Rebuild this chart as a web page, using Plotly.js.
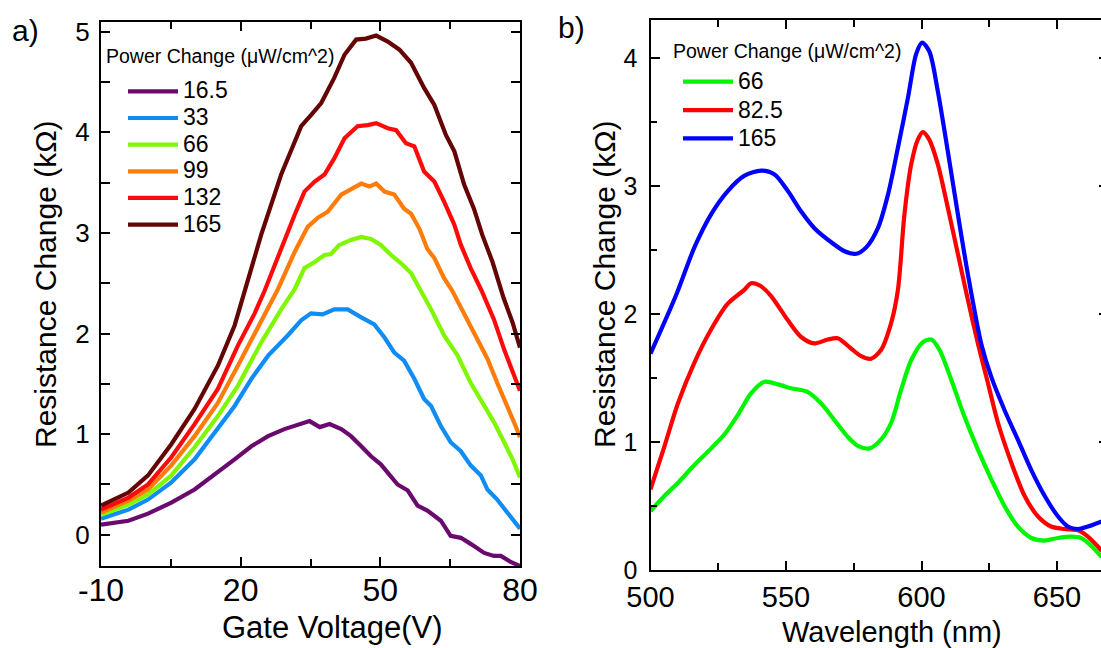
<!DOCTYPE html>
<html>
<head>
<meta charset="utf-8">
<script src="https://cdn.plot.ly/plotly-3.0.1.min.js"></script>
<style>
html, body { margin: 0; padding: 0; overflow: hidden; background: #fff; }
#chart { width: 1110px; height: 648px; }
</style>
</head>
<body>
<div id="chart"></div>
<script>
// ---------- Panel a: Resistance change vs gate voltage ----------
const gateSeriesNames = ['16.5', '33', '66', '99', '132', '165'];
const gateTickVals = [-10, 20, 50, 80];
const gateTickText = ['-10', '20', '50', '80'];

const gate_x_16_5 = [-10, -4.1, 0.1, 5.1, 10.1, 15.1, 18.7, 22.3, 25.9, 29.4, 33.0, 34.8, 37.0, 39.1, 41.6, 43.7, 45.9, 48.0, 50.1, 51.6, 53.7, 55.9, 58.0, 60.1, 63.0, 65.1, 67.3, 69.4, 72.3, 74.4, 75.9, 78.0, 80];
const gate_y_16_5 = [0.10, 0.14, 0.21, 0.32, 0.45, 0.62, 0.75, 0.88, 0.98, 1.05, 1.10, 1.13, 1.07, 1.10, 1.05, 0.98, 0.88, 0.78, 0.70, 0.62, 0.50, 0.44, 0.29, 0.24, 0.14, -0.01, -0.03, -0.09, -0.18, -0.21, -0.21, -0.27, -0.31];

const gate_x_33 = [-10, -4.1, 0.1, 5.1, 10.1, 15.1, 18.7, 22.3, 25.9, 30.1, 33.0, 35.1, 37.6, 40.1, 43.0, 45.9, 48.7, 50.9, 53.0, 55.1, 57.3, 59.4, 60.9, 63.0, 65.1, 67.3, 69.4, 71.6, 73.0, 75.1, 77.3, 80];
const gate_y_33 = [0.16, 0.25, 0.35, 0.52, 0.75, 1.05, 1.28, 1.55, 1.78, 1.98, 2.13, 2.20, 2.19, 2.24, 2.24, 2.16, 2.09, 1.96, 1.81, 1.73, 1.55, 1.35, 1.28, 1.08, 0.92, 0.83, 0.69, 0.59, 0.45, 0.35, 0.22, 0.06];

const gate_x_66 = [-10, -4.1, 0.1, 5.1, 10.1, 15.1, 19.4, 24.4, 28.7, 31.6, 33.7, 35.9, 38.0, 39.4, 41.2, 43.7, 45.9, 48.0, 50.1, 52.3, 54.4, 56.6, 58.4, 60.9, 63.7, 66.6, 69.4, 72.3, 74.4, 76.6, 78.4, 80];
const gate_y_66 = [0.20, 0.30, 0.40, 0.59, 0.87, 1.18, 1.48, 1.91, 2.24, 2.44, 2.65, 2.71, 2.78, 2.79, 2.88, 2.93, 2.96, 2.94, 2.88, 2.78, 2.70, 2.60, 2.45, 2.24, 1.98, 1.78, 1.51, 1.28, 1.12, 0.92, 0.75, 0.57];

const gate_x_99 = [-10, -4.1, 0.1, 5.1, 10.1, 15.1, 19.4, 24.4, 28.0, 31.6, 34.4, 36.6, 38.7, 41.6, 43.7, 45.9, 47.6, 49.1, 50.9, 53.0, 55.1, 56.6, 58.4, 60.1, 61.6, 63.7, 65.5, 68.7, 70.9, 73.0, 75.1, 77.3, 78.7, 80];
const gate_y_99 = [0.22, 0.34, 0.45, 0.69, 0.98, 1.31, 1.68, 2.11, 2.44, 2.81, 3.06, 3.15, 3.21, 3.38, 3.43, 3.49, 3.46, 3.49, 3.41, 3.38, 3.24, 3.19, 3.04, 2.84, 2.75, 2.55, 2.42, 2.14, 1.94, 1.75, 1.51, 1.28, 1.12, 0.97];

const gate_x_132 = [-10, -4.1, 0.1, 5.1, 10.1, 15.1, 19.4, 23.0, 25.1, 28.7, 31.6, 33.7, 35.9, 38.0, 40.1, 42.3, 45.1, 47.3, 49.1, 51.6, 53.4, 55.5, 57.3, 59.4, 61.6, 63.7, 65.9, 67.3, 69.4, 71.7, 74.4, 76.6, 78.4, 80];
const gate_y_132 = [0.25, 0.37, 0.50, 0.77, 1.10, 1.45, 1.88, 2.20, 2.42, 2.85, 3.18, 3.41, 3.51, 3.58, 3.74, 3.94, 4.06, 4.07, 4.09, 4.04, 4.02, 3.89, 3.86, 3.61, 3.51, 3.31, 3.08, 2.88, 2.65, 2.43, 2.14, 1.84, 1.61, 1.43];

const gate_x_165 = [-10, -4.1, 0.1, 5.1, 10.1, 15.1, 18.7, 21.0, 24.4, 28.7, 33.0, 35.1, 37.3, 40.1, 42.3, 44.8, 46.9, 49.1, 51.6, 54.1, 56.6, 59.4, 61.6, 64.1, 65.9, 68.0, 70.1, 71.9, 74.1, 76.5, 78.4, 80];
const gate_y_165 = [0.29, 0.42, 0.59, 0.90, 1.25, 1.68, 2.08, 2.45, 2.98, 3.58, 4.06, 4.17, 4.29, 4.54, 4.77, 4.92, 4.93, 4.96, 4.90, 4.82, 4.69, 4.44, 4.27, 3.97, 3.81, 3.48, 3.24, 2.98, 2.71, 2.35, 2.11, 1.86];

const gateColors = ['#6a0a6e', '#108cf5', '#7ff700', '#ff7b0a', '#ff0a0a', '#640404'];

// ---------- Panel b: Resistance change vs wavelength ----------
const waveSeriesNames = ['66', '82.5', '165'];

const wave_x_66 = [500, 505.2, 510.1, 516.2, 522.4, 527.3, 532.2, 537.1, 542.1, 547.0, 551.9, 558.1, 563.0, 567.9, 572.8, 576.5, 580.8, 585.1, 588.8, 592.5, 596.2, 600.5, 603.6, 606.6, 610.9, 615.8, 620.8, 625.7, 630.6, 635.5, 640.5, 645.4, 650.3, 655.2, 658.9, 662.6, 666.5];
const wave_y_66 = [0.46, 0.58, 0.68, 0.82, 0.95, 1.06, 1.21, 1.38, 1.47, 1.45, 1.42, 1.39, 1.30, 1.17, 1.04, 0.97, 0.95, 1.02, 1.15, 1.41, 1.64, 1.78, 1.80, 1.72, 1.49, 1.20, 0.94, 0.71, 0.50, 0.34, 0.25, 0.23, 0.25, 0.26, 0.25, 0.19, 0.10];

const wave_x_82_5 = [500, 505.2, 510.1, 516.2, 522.4, 528.5, 534.7, 537.1, 540.5, 544.5, 550.7, 555.6, 560.5, 565.4, 569.1, 574.0, 577.7, 581.4, 585.1, 588.8, 591.3, 593.7, 596.2, 598.6, 600.5, 602.9, 606.0, 609.7, 613.4, 617.1, 620.8, 624.5, 628.2, 633.1, 638.0, 642.9, 647.8, 652.8, 657.7, 661.4, 666.5];
const wave_y_82_5 = [0.63, 0.97, 1.30, 1.62, 1.88, 2.08, 2.19, 2.24, 2.22, 2.14, 1.95, 1.82, 1.77, 1.80, 1.81, 1.73, 1.67, 1.65, 1.72, 1.93, 2.19, 2.78, 3.17, 3.36, 3.42, 3.36, 3.17, 2.83, 2.47, 2.11, 1.77, 1.46, 1.15, 0.84, 0.58, 0.42, 0.34, 0.32, 0.31, 0.26, 0.15];

const wave_x_165 = [500, 509.5, 516.2, 522.4, 528.5, 534.7, 540.8, 545.8, 550.7, 555.6, 560.5, 566.7, 571.6, 575.9, 579.6, 583.9, 587.6, 591.3, 595.0, 598.0, 600.2, 602.9, 606.0, 609.7, 613.4, 617.1, 622.0, 625.7, 630.6, 635.5, 640.5, 645.4, 650.3, 654.0, 657.7, 661.4, 666.5];
const wave_y_165 = [1.69, 2.15, 2.52, 2.78, 2.96, 3.08, 3.12, 3.09, 2.96, 2.80, 2.67, 2.56, 2.49, 2.47, 2.52, 2.67, 2.93, 3.30, 3.69, 4.03, 4.12, 4.05, 3.74, 3.27, 2.78, 2.31, 1.77, 1.51, 1.25, 1.02, 0.78, 0.58, 0.42, 0.34, 0.32, 0.34, 0.38];

const waveColors = ['#00f500', '#ff0000', '#0000ff'];

// ---------- Text ----------
const legendTitle = 'Power Change (\u03bcW/cm^2)';
const yTitle = 'Resistance Change (k\u03a9)';
const xTitleA = 'Gate Voltage(V)';
const xTitleB = 'Wavelength (nm)';
const panelLabels = ['a)', 'b)'];

// ---------- Layout helpers (figure pixel -> paper) ----------
const W = 1110, H = 648;
const fx = p => p / W;
const fy = p => 1 - p / H;
const FONT = 'Liberation Sans, Arial, Helvetica, sans-serif';

const gateX = [gate_x_16_5, gate_x_33, gate_x_66, gate_x_99, gate_x_132, gate_x_165];
const gateY = [gate_y_16_5, gate_y_33, gate_y_66, gate_y_99, gate_y_132, gate_y_165];
const waveX = [wave_x_66, wave_x_82_5, wave_x_165];
const waveY = [wave_y_66, wave_y_82_5, wave_y_165];

const legendName = (n, size) => '<span style="font-size:' + size + 'px">' + n + '</span>';

const traces = [];
gateSeriesNames.forEach((n, i) => {
  traces.push({
    type: 'scatter', mode: 'lines', x: gateX[i], y: gateY[i],
    name: legendName(n, 23), xaxis: 'x', yaxis: 'y', legend: 'legend',
    line: { color: gateColors[i], width: 4.2 }
  });
});
waveSeriesNames.forEach((n, i) => {
  traces.push({
    type: 'scatter', mode: 'lines', x: waveX[i], y: waveY[i],
    name: legendName(n, 23), xaxis: 'x2', yaxis: 'y2', legend: 'legend2',
    line: { color: waveColors[i], width: 4.2, shape: 'spline', smoothing: 0.8 }
  });
});

function axisBase(extra) {
  return Object.assign({
    showline: true, linecolor: '#000', linewidth: 2, mirror: 'ticks',
    ticks: 'inside', ticklen: 9, tickwidth: 2, tickcolor: '#000',
    showgrid: false, zeroline: false, fixedrange: true,
    tickfont: { family: FONT, size: 26, color: '#000' }
  }, extra);
}

const layout = {
  width: W, height: H,
  margin: { l: 0, r: 0, t: 0, b: 0, pad: 0 },
  paper_bgcolor: '#fff', plot_bgcolor: 'rgba(0,0,0,0)',
  font: { family: FONT, color: '#000' },
  showlegend: true,
  xaxis: axisBase({
    domain: [fx(101), fx(520)], anchor: 'y', range: [-10, 80],
    tickmode: 'array', tickvals: gateTickVals, ticktext: gateTickText,
    minor: { tickmode: 'linear', tick0: -10, dtick: 15, ticks: 'inside', ticklen: 7, tickwidth: 2, tickcolor: '#000' },
    tickfont: { family: FONT, size: 32, color: '#000' },
    ticklabelstandoff: -5
  }),
  yaxis: axisBase({
    domain: [fy(566), fy(22)], anchor: 'x', range: [-0.31, 5.095],
    tick0: 0, dtick: 1,
    minor: { dtick: 0.5, ticks: 'inside', ticklen: 9, tickwidth: 2, tickcolor: '#000' },
    ticklabelstandoff: 4
  }),
  xaxis2: axisBase({
    domain: [fx(650.5), fx(1108)], anchor: 'y2', range: [500, 668.8],
    tick0: 500, dtick: 50,
    minor: { dtick: 25, ticks: 'inside', ticklen: 7, tickwidth: 2, tickcolor: '#000' },
    tickfont: { family: FONT, size: 29, color: '#000' }
  }),
  yaxis2: axisBase({
    domain: [fy(570), fy(19.5)], anchor: 'x2', range: [0, 4.3],
    tick0: 0, dtick: 1,
    minor: { dtick: 0.5, ticks: 'inside', ticklen: 6, tickwidth: 2, tickcolor: '#000' },
    tickfont: { family: FONT, size: 25, color: '#000' },
    ticklabelstandoff: 6
  }),
  legend: {
    x: fx(123), y: fy(73), xanchor: 'left', yanchor: 'top',
    bgcolor: 'rgba(0,0,0,0)', borderwidth: 0, itemwidth: 50,
    font: { family: FONT, size: 18.2, color: '#000' },
    itemclick: false, itemdoubleclick: false
  },
  legend2: {
    x: fx(678), y: fy(62.5), xanchor: 'left', yanchor: 'top',
    bgcolor: 'rgba(0,0,0,0)', borderwidth: 0, itemwidth: 50,
    font: { family: FONT, size: 19.5, color: '#000' },
    itemclick: false, itemdoubleclick: false
  },
  annotations: [
    { text: panelLabels[0], x: fx(25), y: fy(31), xref: 'paper', yref: 'paper', showarrow: false,
      xanchor: 'center', yanchor: 'middle', font: { family: FONT, size: 30, color: '#000' } },
    { text: panelLabels[1], x: fx(571), y: fy(28), xref: 'paper', yref: 'paper', showarrow: false,
      xanchor: 'center', yanchor: 'middle', font: { family: FONT, size: 30, color: '#000' } },
    { text: legendTitle, x: fx(104), y: fy(56), xref: 'paper', yref: 'paper', showarrow: false,
      xanchor: 'left', yanchor: 'middle', font: { family: FONT, size: 19.5, color: '#000' } },
    { text: legendTitle, x: fx(671), y: fy(51), xref: 'paper', yref: 'paper', showarrow: false,
      xanchor: 'left', yanchor: 'middle', font: { family: FONT, size: 19.5, color: '#000' } },
    { text: yTitle, x: fx(46), y: fy(284), xref: 'paper', yref: 'paper', showarrow: false, textangle: -90,
      xanchor: 'center', yanchor: 'middle', font: { family: FONT, size: 30, color: '#000' } },
    { text: yTitle, x: fx(605), y: fy(284), xref: 'paper', yref: 'paper', showarrow: false, textangle: -90,
      xanchor: 'center', yanchor: 'middle', font: { family: FONT, size: 30, color: '#000' } },
    { text: xTitleA, x: fx(332), y: fy(627), xref: 'paper', yref: 'paper', showarrow: false,
      xanchor: 'center', yanchor: 'middle', font: { family: FONT, size: 31, color: '#000' } },
    { text: xTitleB, x: fx(892), y: 0, xref: 'paper', yref: 'paper', showarrow: false,
      xanchor: 'center', yanchor: 'bottom', yshift: -2, font: { family: FONT, size: 29, color: '#000' } }
  ]
};

Plotly.newPlot('chart', traces, layout, { displayModeBar: false, staticPlot: true });
</script>
</body>
</html>
